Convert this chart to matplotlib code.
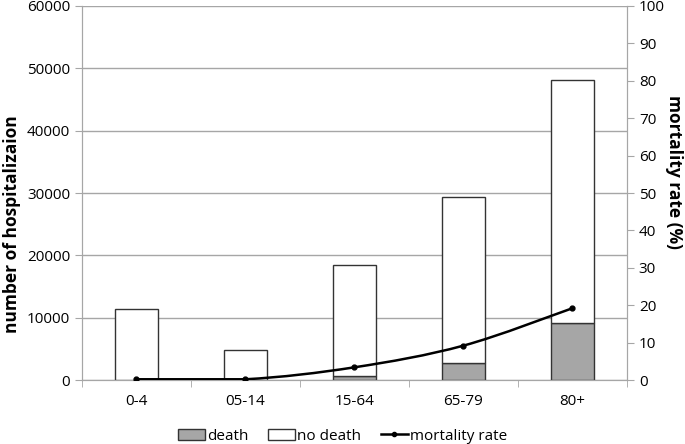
import matplotlib
matplotlib.use("Agg")
import matplotlib.pyplot as plt
from matplotlib.path import Path
from matplotlib.patches import PathPatch
from matplotlib.lines import Line2D
from matplotlib.patches import Patch
import numpy as np

plt.rcParams['font.family'] = ['Open Sans', 'DejaVu Sans']

# data
age_groups = ['0-4', '05-14', '15-64', '65-79', '80+']
death = [30, 10, 600, 2700, 9200]
total = [11400, 4850, 18500, 29300, 48200]
mortality = [0.2, 0.2, 3.4, 9.2, 19.2]

no_death = [t - d for t, d in zip(total, death)]
x = np.arange(len(age_groups))

fig = plt.figure(figsize=(6.85, 4.44), dpi=100)
ax = fig.add_axes([0.1197, 0.1441, 0.7956, 0.8424])
ax2 = ax.twinx()

grid_col = '#a6a6a6'
ax.bar(x, death, width=0.4, color='#a6a6a6', edgecolor='#333333', linewidth=1, zorder=3)
ax.bar(x, no_death, width=0.4, bottom=death, color='white', edgecolor='#333333', linewidth=1, zorder=3)

ax.set_ylim(0, 60000)
ax.set_yticks(range(0, 60001, 10000))
ax.set_xlim(-0.5, 4.5)
ax.set_xticks(x)
ax.set_xticklabels(age_groups)
ax.set_xticks(np.arange(-0.5, 5, 1), minor=True)
ax.tick_params(axis='x', which='major', length=0, pad=10, labelsize=11)
ax.tick_params(axis='x', which='minor', length=5, color=grid_col)
ax.tick_params(axis='y', length=5, color=grid_col, labelsize=11)
ax.grid(axis='y', color=grid_col, linewidth=1, zorder=0)
ax.set_axisbelow(True)

# smoothed mortality curve, control points kept inside each segment so flat parts stay flat
ax2.set_ylim(0, 100)
ax2.set_yticks(range(0, 101, 10))
ax2.tick_params(axis='y', length=5, color=grid_col, labelsize=11)
pts = np.column_stack([x, mortality]).astype(float)
verts = [tuple(pts[0])]
codes = [Path.MOVETO]
for i in range(len(pts) - 1):
    p0 = pts[i - 1] if i > 0 else pts[i]
    p1 = pts[i]
    p2 = pts[i + 1]
    p3 = pts[i + 2] if i + 2 < len(pts) else pts[i + 1]
    c1 = p1 + (p2 - p0) / 6.0
    c2 = p2 - (p3 - p1) / 6.0
    lo, hi = min(p1[1], p2[1]), max(p1[1], p2[1])
    c1[1] = np.clip(c1[1], lo, hi)
    c2[1] = np.clip(c2[1], lo, hi)
    verts += [tuple(c1), tuple(c2), tuple(p2)]
    codes += [Path.CURVE4] * 3
ax2.add_patch(PathPatch(Path(verts, codes), facecolor='none', edgecolor='black', linewidth=1.8, zorder=4))
ax2.plot(x, mortality, linestyle='none', marker='o', markersize=3.5, color='black', zorder=5)

for a in (ax, ax2):
    for s in a.spines.values():
        s.set_color(grid_col)
    a.spines['top'].set_visible(False)

# axis titles placed like in the original (not centred on the axes)
fig.text(0.017, 0.4955, 'number of hospitalizaion', rotation=90, ha='center', va='center',
         fontsize=12.5, fontweight='bold')
fig.text(0.984, 0.6126, 'mortality rate (%)', rotation=270, ha='center', va='center',
         fontsize=12.5, fontweight='bold')

handles = [Patch(facecolor='#a6a6a6', edgecolor='#333333', label='death'),
           Patch(facecolor='white', edgecolor='#333333', label='no death'),
           Line2D([0], [0], color='black', linewidth=1.8, marker='o', markersize=3, label='mortality rate')]
fig.legend(handles=handles, loc='lower center', bbox_to_anchor=(0.5, -0.03), ncol=3, frameon=False,
           fontsize=11, handlelength=1.75, handletextpad=0.15, columnspacing=1.3)

fig.savefig('out.png', dpi=100)
